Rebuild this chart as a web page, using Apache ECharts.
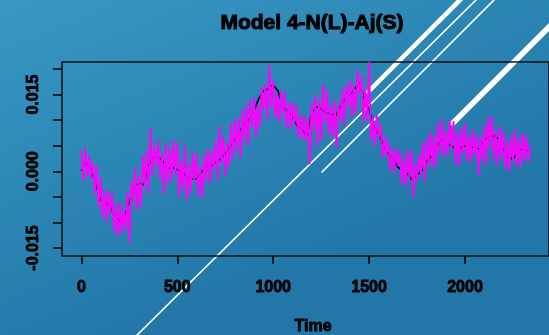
<!DOCTYPE html>
<html>
<head>
<meta charset="utf-8">
<script src="https://cdn.jsdelivr.net/npm/echarts@6/dist/echarts.min.js"></script>
<style>
  html, body { margin: 0; padding: 0; }
  #chart { width: 549px; height: 335px; }
</style>
</head>
<body>
<div id="chart"></div>
<script>
// observed series (black), one value every 25 time steps from t = 0
const blackStep = 25;
const blackValues = [
  0.0001, 0.0016, 0.0005, -0.0025, -0.0056, -0.0062, -0.0068, -0.0089, -0.0097, -0.0088,
  -0.0060, -0.0031, -0.0023, -0.0027, 0.0012, 0.0028, 0.0028, 0.0020, 0.0005, 0.0008,
  0.0003, -0.0001, -0.0011, -0.0015, -0.0015, -0.0003, 0.0010, 0.0010, 0.0018, 0.0024,
  0.0034, 0.0048, 0.0063, 0.0079, 0.0093, 0.0102, 0.0118, 0.0142, 0.0157, 0.0161,
  0.0169, 0.0157, 0.0126, 0.0118, 0.0106, 0.0089, 0.0083, 0.0069, 0.0112, 0.0126,
  0.0122, 0.0114, 0.0112, 0.0108, 0.0126, 0.0142, 0.0149, 0.0161, 0.0173, 0.0142,
  0.0122, 0.0087, 0.0073, 0.0051, 0.0034, 0.0024, 0.0008, 0.0001, -0.0005, -0.0017,
  -0.0007, 0.0001, 0.0020, 0.0030, 0.0046, 0.0063, 0.0057, 0.0051, 0.0044, 0.0046,
  0.0050, 0.0048, 0.0046, 0.0044, 0.0061, 0.0069, 0.0069, 0.0063, 0.0044, 0.0028,
  0.0024, 0.0038, 0.0044, 0.0040
];

// fitted series (magenta), one value every 10 time steps from t = 0
const magentaStep = 10;
const magentaValues = [
  0.0040, -0.0020, 0.0046, -0.0010, 0.0030, -0.0015, 0.0018, -0.0045, 0.0012, -0.0070,
  -0.0012, -0.0090, -0.0035, -0.0100, -0.0038, -0.0085, -0.0042, -0.0118, -0.0065, -0.0128,
  -0.0058, -0.0122, -0.0075, -0.0115, -0.0040, -0.0140, -0.0020, -0.0060, 0.0008, -0.0075,
  -0.0010, -0.0070, 0.0030, -0.0030, 0.0040, -0.0045, 0.0085, -0.0010, 0.0050, 0.0010,
  0.0060, -0.0015, 0.0035, -0.0045, 0.0055, -0.0025, 0.0048, -0.0020, 0.0062, -0.0005,
  0.0055, -0.0050, 0.0020, -0.0035, 0.0050, -0.0058, 0.0015, -0.0045, 0.0036, -0.0020,
  0.0035, -0.0048, 0.0010, -0.0052, 0.0032, -0.0020, 0.0045, -0.0025, 0.0040, 0.0005,
  0.0060, -0.0018, 0.0088, 0.0015, 0.0068, -0.0010, 0.0055, 0.0010, 0.0095, 0.0025,
  0.0100, 0.0040, 0.0105, 0.0025, 0.0120, 0.0060, 0.0130, 0.0050, 0.0140, 0.0085,
  0.0145, 0.0065, 0.0130, 0.0085, 0.0165, 0.0120, 0.0170, 0.0100, 0.0208, 0.0125,
  0.0178, 0.0105, 0.0150, 0.0095, 0.0160, 0.0110, 0.0155, 0.0085, 0.0135, 0.0082,
  0.0135, 0.0090, 0.0130, 0.0065, 0.0110, 0.0062, 0.0110, 0.0060, 0.0105, 0.0014,
  0.0135, 0.0080, 0.0150, 0.0050, 0.0140, 0.0060, 0.0170, 0.0095, 0.0160, 0.0070,
  0.0130, 0.0068, 0.0140, 0.0045, 0.0130, 0.0100, 0.0160, 0.0088, 0.0170, 0.0125,
  0.0180, 0.0105, 0.0170, 0.0112, 0.0198, 0.0150, 0.0185, 0.0095, 0.0160, 0.0100,
  0.0214, 0.0060, 0.0105, 0.0050, 0.0110, 0.0065, 0.0090, 0.0025, 0.0070, 0.0030,
  0.0060, 0.0002, 0.0045, -0.0005, 0.0045, 0.0010, 0.0040, -0.0025, 0.0025, -0.0030,
  0.0042, -0.0015, 0.0040, -0.0052, 0.0015, -0.0020, 0.0032, -0.0005, 0.0055, -0.0020,
  0.0065, 0.0010, 0.0078, 0.0005, 0.0070, 0.0012, 0.0095, 0.0035, 0.0102, 0.0028,
  0.0080, 0.0030, 0.0100, 0.0045, 0.0098, 0.0015, 0.0075, 0.0010, 0.0085, 0.0035,
  0.0095, 0.0020, 0.0070, 0.0018, 0.0082, 0.0030, 0.0072, -0.0008, 0.0068, 0.0020,
  0.0090, 0.0012, 0.0105, 0.0045, 0.0108, 0.0020, 0.0080, 0.0012, 0.0088, 0.0025,
  0.0078, 0.0005, 0.0060, -0.0002, 0.0068, 0.0020, 0.0082, 0.0010, 0.0065, 0.0008,
  0.0076, 0.0020, 0.0070, 0.0018, 0.0050
];

const xTicks = [0, 500, 1000, 1500, 2000, 2500];
const yTicks = [-0.015, -0.01, -0.005, 0, 0.005, 0.01, 0.015, 0.02];
const yLabels = [-0.015, 0, 0.015];

const chart = echarts.init(document.getElementById('chart'), null, { renderer: 'canvas' });

const toPairs = (values, step) => values.map((v, i) => [i * step, v]);

const axisFont = {
  color: '#000',
  fontFamily: 'Liberation Sans, Arial, sans-serif',
  fontWeight: 'bold',
  fontSize: 16,
  textBorderColor: '#000',
  textBorderWidth: 0.8,
};

// white diagonal strokes from the slide background
const deco = (x1, y1, x2, y2, w) => ({
  type: 'line',
  z: -1,
  silent: true,
  shape: { x1, y1, x2, y2 },
  style: { stroke: '#fff', lineWidth: w, lineCap: 'round' },
});

const boldText = (text, x, y, size, vAlign) => ({
  type: 'text',
  x,
  y,
  z: 10,
  silent: true,
  style: {
    text,
    fill: '#000',
    font: `bold ${size}px "Liberation Sans", Arial, sans-serif`,
    align: 'center',
    verticalAlign: vAlign,
    stroke: '#000',
    lineWidth: size > 18 ? 1 : 0.8,
  },
});

chart.setOption({
  animation: false,
  backgroundColor: new echarts.graphic.LinearGradient(0, 0, 0.25, 1, [
    { offset: 0, color: '#3898c3' },
    { offset: 1, color: '#2277a8' },
  ]),
  graphic: [
    deco(130, 342, 476, 0, 1.6),
    deco(322, 172, 495, -1, 1.6),
    deco(368, 92, 462, -2, 4.5),
    deco(560, 16, 453, 123, 5.5),
    boldText('Model 4-N(L)-Aj(S)', 312, 23, 21, 'middle'),
    boldText('Time', 313, 319, 16, 'top'),
  ],
  grid: {
    left: 62,
    top: 62,
    width: 502,
    height: 194,
    show: true,
    borderColor: '#111',
    borderWidth: 1.5,
    backgroundColor: 'transparent',
  },
  xAxis: {
    type: 'value',
    min: -101,
    max: 2438,
    axisLine: { show: false, onZero: false },
    splitLine: { show: false },
    axisTick: {
      show: true,
      length: 8,
      customValues: xTicks,
      lineStyle: { color: '#000', width: 1.5 },
    },
    axisLabel: {
      ...axisFont,
      margin: 24,
      customValues: xTicks,
      formatter: v => String(v),
    },
  },
  yAxis: {
    type: 'value',
    min: -0.01657,
    max: 0.02137,
    axisLine: { show: false, onZero: false },
    splitLine: { show: false },
    axisTick: {
      show: true,
      length: 9,
      customValues: yTicks,
      lineStyle: { color: '#000', width: 1.5 },
    },
    axisLabel: {
      ...axisFont,
      rotate: 90,
      margin: 20,
      customValues: yLabels,
      formatter: v => v.toFixed(3),
    },
  },
  series: [
    {
      name: 'observed',
      type: 'line',
      data: toPairs(blackValues, blackStep),
      symbol: 'none',
      z: 2,
      lineStyle: { color: '#000', width: 1.6 },
    },
    {
      name: 'fitted',
      type: 'line',
      data: toPairs(magentaValues, magentaStep),
      symbol: 'none',
      z: 3,
      lineStyle: { color: '#ff00ff', width: 1.8 },
    },
  ],
});
</script>
</body>
</html>
